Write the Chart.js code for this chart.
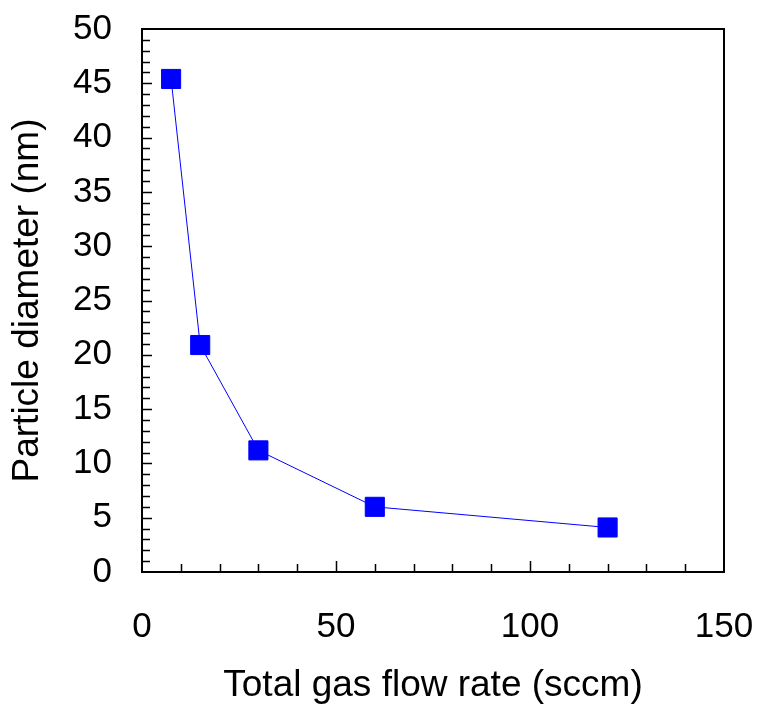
<!DOCTYPE html>
<html>
<head>
<meta charset="utf-8">
<script src="https://cdn.jsdelivr.net/npm/chart.js@4/dist/chart.umd.min.js"></script>
<style>
  html, body { margin: 0; padding: 0; background: #fff; }
  #wrap { width: 759px; height: 704px; }
</style>
</head>
<body>
<div id="wrap"><canvas id="flowChart"></canvas></div>
<script>
// data
const flowRates = [7.5, 15, 30, 60, 120];          // sccm
const diameters = [45.4, 20.9, 11.2, 6.0, 4.1];    // nm
const xTickValues = [0, 50, 100, 150];
const yTickValues = [0, 5, 10, 15, 20, 25, 30, 35, 40, 45, 50];

const FONT = '"Liberation Sans", Arial, Helvetica, sans-serif';

// frame + inward ticks, drawn through the chart's own scales
const frameTicks = {
    id: 'frameTicks',
    afterDatasetsDraw(chart) {
        const { ctx, chartArea: a, scales: { x, y } } = chart;
        ctx.save();
        ctx.strokeStyle = '#000';
        ctx.lineWidth = 1.5;
        ctx.beginPath();
        for (let v = 10; v < 150; v += 10) {
            const px = Math.round(x.getPixelForValue(v)) + 0.5;
            const len = v % 50 === 0 ? 11 : 8;
            ctx.moveTo(px, a.bottom);
            ctx.lineTo(px, a.bottom - len);
        }
        for (let v = 1; v < 50; v++) {
            const py = Math.round(y.getPixelForValue(v)) + 0.5;
            const len = v % 5 === 0 ? 10 : 8;
            ctx.moveTo(a.left, py);
            ctx.lineTo(a.left + len, py);
        }
        ctx.stroke();
        ctx.lineWidth = 2;
        ctx.strokeRect(a.left, a.top, a.right - a.left, a.bottom - a.top);
        ctx.restore();
    }
};

new Chart(document.getElementById('flowChart'), {
    type: 'scatter',
    data: {
        datasets: [{
            label: 'Particle diameter',
            data: flowRates.map((f, i) => ({ x: f, y: diameters[i] })),
            showLine: true,
            borderColor: '#0000ff',
            borderWidth: 1,
            backgroundColor: '#0000ff',
            pointStyle: 'rect',
            pointRadius: 13.5,
            pointBorderWidth: 1,
            pointBorderColor: '#0000ff',
            clip: false
        }]
    },
    options: {
        responsive: true,
        maintainAspectRatio: false,
        animation: false,
        layout: { padding: { top: 29, right: 35, left: 0, bottom: 0 } },
        plugins: {
            legend: { display: false },
            tooltip: { enabled: false }
        },
        scales: {
            x: {
                type: 'linear',
                min: 0,
                max: 150,
                afterBuildTicks: s => { s.ticks = xTickValues.map(v => ({ value: v })); },
                afterFit: s => {
                    s.height = 132;
                    s.paddingLeft = 0;
                    s.paddingRight = 0;
                },
                border: { display: false },
                grid: { display: false },
                ticks: {
                    color: '#000',
                    font: { family: FONT, size: 35 },
                    padding: 26,
                    maxRotation: 0
                },
                title: {
                    display: true,
                    text: 'Total gas flow rate (sccm)',
                    color: '#000',
                    font: { family: FONT, size: 37, lineHeight: 1 },
                    padding: { top: 0, bottom: 0 }
                }
            },
            y: {
                type: 'linear',
                min: 0,
                max: 50,
                afterBuildTicks: s => { s.ticks = yTickValues.map(v => ({ value: v })); },
                afterFit: s => {
                    s.width = 142;
                    s.paddingTop = 0;
                    s.paddingBottom = 0;
                },
                border: { display: false },
                grid: { display: false },
                ticks: {
                    color: '#000',
                    font: { family: FONT, size: 35 },
                    padding: 22
                },
                title: {
                    display: true,
                    text: 'Particle diameter (nm)',
                    color: '#000',
                    font: { family: FONT, size: 37 },
                    padding: { top: 6, bottom: 0 }
                }
            }
        }
    },
    plugins: [frameTicks]
});
</script>
</body>
</html>
